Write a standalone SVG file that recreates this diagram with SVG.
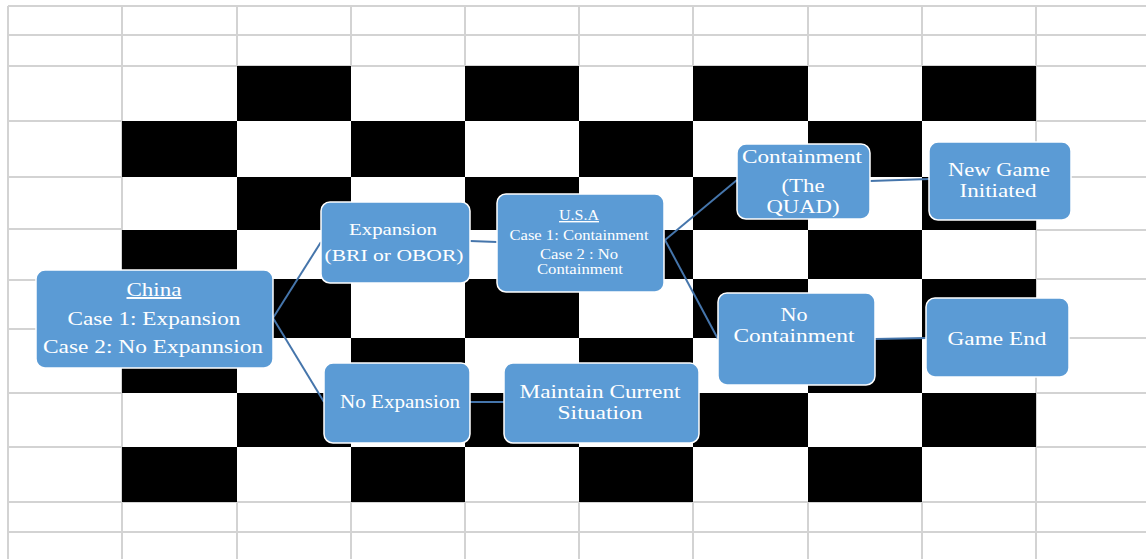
<svg xmlns="http://www.w3.org/2000/svg" width="1146" height="559" viewBox="0 0 1146 559">
<style>
.g{stroke:#d3d3d3;stroke-width:2;fill:none}
.k{fill:#000}
.c{stroke:#4575ab;stroke-width:2;fill:none}
.n{fill:#5b9bd5;stroke:#ffffff;stroke-width:1.5}
.t{font-family:"Liberation Serif","Times New Roman",serif;fill:#ffffff;text-anchor:middle}
</style>
<rect width="1146" height="559" fill="#ffffff"/>
<g id="grid">
<path class="g" d="M8,6H1146M8,35H1146M8,66H1146M8,502H1146M8,532H1146"/>
<path class="g" d="M8,6V559M122,6V559M237,6V66M351,6V66M465,6V66M579,6V66M693,6V66M808,6V66M922,6V66M1036,6V559M237,502V559M351,502V559M465,502V559M579,502V559M693,502V559M808,502V559M922,502V559"/>
<path class="g" d="M8,121H122M8,177H122M8,229H122M8,280H122M8,329H122M8,393H122M8,447H122"/>
<path class="g" d="M1036,121H1146M1036,177H1146M1036,230H1146M1036,279H1146M1036,338H1146M1036,393H1146M1036,447H1146"/>
</g>
<g id="checker">
<rect class="k" x="237" y="66" width="114" height="55"/><rect class="k" x="465" y="66" width="114" height="55"/><rect class="k" x="693" y="66" width="115" height="55"/><rect class="k" x="922" y="66" width="114" height="55"/>
<rect class="k" x="122" y="121" width="115" height="56"/><rect class="k" x="351" y="121" width="114" height="56"/><rect class="k" x="579" y="121" width="114" height="56"/><rect class="k" x="808" y="121" width="114" height="56"/>
<rect class="k" x="237" y="177" width="114" height="53"/><rect class="k" x="465" y="177" width="114" height="53"/><rect class="k" x="693" y="177" width="115" height="53"/><rect class="k" x="922" y="177" width="114" height="53"/>
<rect class="k" x="122" y="230" width="115" height="49"/><rect class="k" x="351" y="230" width="114" height="49"/><rect class="k" x="579" y="230" width="114" height="49"/><rect class="k" x="808" y="230" width="114" height="49"/>
<rect class="k" x="237" y="279" width="114" height="59"/><rect class="k" x="465" y="279" width="114" height="59"/><rect class="k" x="693" y="279" width="115" height="59"/><rect class="k" x="922" y="279" width="114" height="59"/>
<rect class="k" x="122" y="338" width="115" height="55"/><rect class="k" x="351" y="338" width="114" height="55"/><rect class="k" x="579" y="338" width="114" height="55"/><rect class="k" x="808" y="338" width="114" height="55"/>
<rect class="k" x="237" y="393" width="114" height="54"/><rect class="k" x="465" y="393" width="114" height="54"/><rect class="k" x="693" y="393" width="115" height="54"/><rect class="k" x="922" y="393" width="114" height="54"/>
<rect class="k" x="122" y="447" width="115" height="55"/><rect class="k" x="351" y="447" width="114" height="55"/><rect class="k" x="579" y="447" width="114" height="55"/><rect class="k" x="808" y="447" width="114" height="55"/>
</g>
<g id="connectors">
<path class="c" d="M273,318L321,242"/>
<path class="c" d="M273,318L324,402"/>
<path class="c" d="M470,241L497,242"/>
<path class="c" d="M665,240L737,180"/>
<path class="c" d="M665,240L718,339"/>
<path class="c" d="M870,181L929,179"/>
<path class="c" d="M875,339L926,338"/>
<path class="c" d="M470,402L504,402"/>
</g>
<g id="china">
<rect class="n" x="36" y="270" width="237" height="98" rx="9"/>
<text class="t" x="154" y="296" font-size="19.5" text-decoration="underline" textLength="55" lengthAdjust="spacingAndGlyphs">China</text>
<text class="t" x="154" y="325" font-size="19.5" textLength="173" lengthAdjust="spacingAndGlyphs">Case 1: Expansion</text>
<text class="t" x="153" y="353" font-size="19.5" textLength="220" lengthAdjust="spacingAndGlyphs">Case 2: No Expannsion</text>
</g>
<g id="expansion">
<rect class="n" x="321" y="202" width="149" height="81" rx="9"/>
<text class="t" x="393" y="235" font-size="17.5" textLength="88" lengthAdjust="spacingAndGlyphs">Expansion</text>
<text class="t" x="394" y="261" font-size="17.5" textLength="139" lengthAdjust="spacingAndGlyphs">(BRI or OBOR)</text>
</g>
<g id="noexpansion">
<rect class="n" x="324" y="363" width="146" height="80" rx="9"/>
<text class="t" x="400" y="408" font-size="18" textLength="120" lengthAdjust="spacingAndGlyphs">No Expansion</text>
</g>
<g id="maintain">
<rect class="n" x="504" y="363" width="195" height="80" rx="9"/>
<text class="t" x="600" y="398" font-size="19" textLength="161" lengthAdjust="spacingAndGlyphs">Maintain Current</text>
<text class="t" x="600" y="419" font-size="19" textLength="85" lengthAdjust="spacingAndGlyphs">Situation</text>
</g>
<g id="usa">
<rect class="n" x="497" y="194" width="167" height="98" rx="9"/>
<text class="t" x="579" y="220" font-size="14" text-decoration="underline" textLength="40" lengthAdjust="spacingAndGlyphs">U.S.A</text>
<text class="t" x="579" y="240" font-size="14" textLength="139" lengthAdjust="spacingAndGlyphs">Case 1: Containment</text>
<text class="t" x="579" y="259" font-size="14" textLength="78" lengthAdjust="spacingAndGlyphs">Case 2 : No</text>
<text class="t" x="580" y="274" font-size="14" textLength="86" lengthAdjust="spacingAndGlyphs">Containment</text>
</g>
<g id="containment">
<rect class="n" x="737" y="144" width="133" height="75" rx="9"/>
<text class="t" x="802" y="163" font-size="18" textLength="120" lengthAdjust="spacingAndGlyphs">Containment</text>
<text class="t" x="803" y="192" font-size="18" textLength="43" lengthAdjust="spacingAndGlyphs">(The</text>
<text class="t" x="803" y="213" font-size="18" textLength="73" lengthAdjust="spacingAndGlyphs">QUAD)</text>
</g>
<g id="nocontainment">
<rect class="n" x="718" y="293" width="157" height="92" rx="9"/>
<text class="t" x="794" y="321" font-size="18" textLength="27" lengthAdjust="spacingAndGlyphs">No</text>
<text class="t" x="794" y="342" font-size="18" textLength="121" lengthAdjust="spacingAndGlyphs">Containment</text>
</g>
<g id="newgame">
<rect class="n" x="929" y="142" width="142" height="78" rx="9"/>
<text class="t" x="999" y="176" font-size="18" textLength="102" lengthAdjust="spacingAndGlyphs">New Game</text>
<text class="t" x="998" y="197" font-size="18" textLength="77" lengthAdjust="spacingAndGlyphs">Initiated</text>
</g>
<g id="gameend">
<rect class="n" x="926" y="298" width="143" height="79" rx="9"/>
<text class="t" x="997" y="345" font-size="18" textLength="99" lengthAdjust="spacingAndGlyphs">Game  End</text>
</g>
</svg>
